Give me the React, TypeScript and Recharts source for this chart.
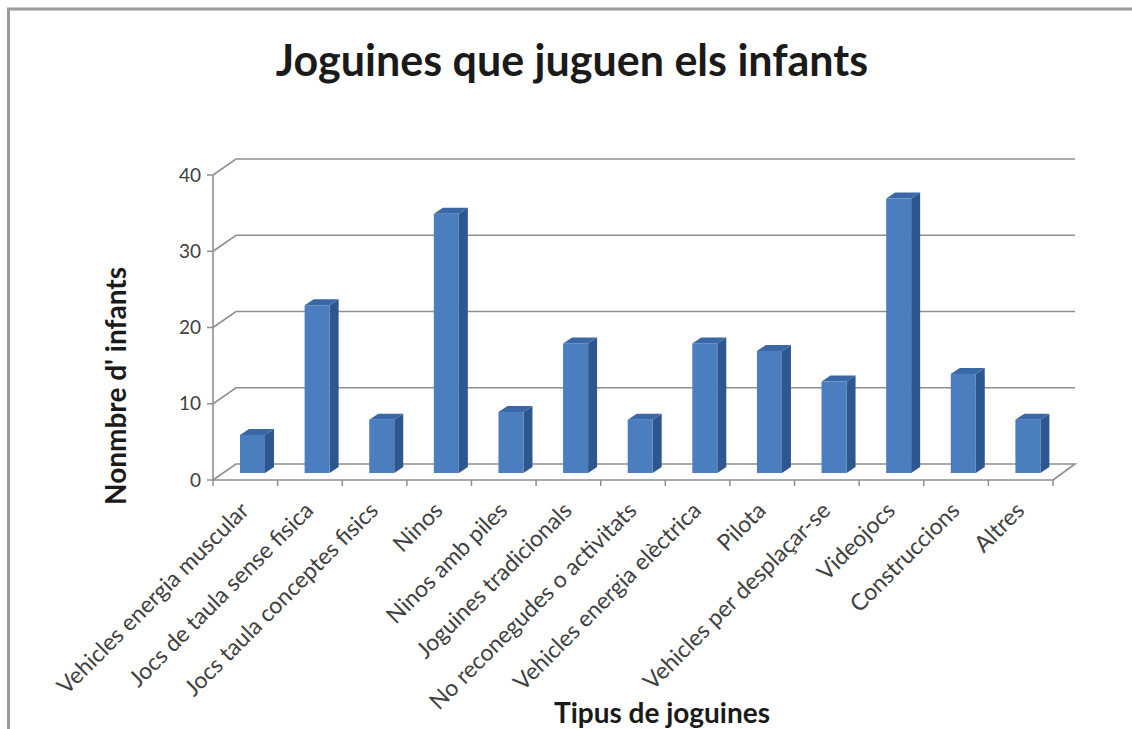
import React from 'react';
import { BarChart, Bar, XAxis, YAxis, CartesianGrid } from 'recharts';

const categories = [
  'Vehicles energia muscular',
  'Jocs de taula sense fisica',
  'Jocs taula conceptes fisics',
  'Ninos',
  'Ninos amb piles',
  'Joguines tradicionals',
  'No reconegudes o activitats',
  'Vehicles energia elèctrica',
  'Pilota',
  'Vehicles per desplaçar-se',
  'Videojocs',
  'Construccions',
  'Altres',
];
const infants = [5, 22, 7, 34, 8, 17, 7, 17, 16, 12, 36, 13, 7];
const yTicks = [0, 10, 20, 30, 40];

const data = categories.map((name, i) => ({ name, infants: infants[i] }));

// layout of the fake 3d plot
const W = 1132;
const H = 729;
const PLOT_LEFT = 213;
const PLOT_RIGHT = 1053;
const PLOT_TOP = 175;
const PLOT_BOTTOM = 480;
const BAND = (PLOT_RIGHT - PLOT_LEFT) / categories.length;
const WALL_DX = 23;
const WALL_DY = -16;
const BAR_DX = 7;
const BAR_DY = -7;
const DEPTH_X = 9;
const DEPTH_Y = -6;

const FONT = 'Lato, "Open Sans", sans-serif';
const GRID = '#8f8f8f';

const Bar3D = (props: any) => {
  const { x, y, width, height } = props;
  if (height <= 0) return null;
  const l = x + BAR_DX;
  const r = l + width;
  const t = y + BAR_DY;
  const b = t + height;
  return (
    <g>
      <polygon
        points={`${r},${b} ${r + DEPTH_X},${b + DEPTH_Y} ${r + DEPTH_X},${t + DEPTH_Y} ${r},${t}`}
        fill="#2d578e"
      />
      <polygon
        points={`${l},${t} ${l + DEPTH_X},${t + DEPTH_Y} ${r + DEPTH_X},${t + DEPTH_Y} ${r},${t}`}
        fill="#3a68a6"
      />
      <rect x={l} y={t} width={width} height={height} fill="#4a7ebf" />
    </g>
  );
};

const gridLine = (props: any) => {
  const { x1, y1, x2, key } = props;
  const wy = y1 + WALL_DY;
  let pts = `${x1},${y1} ${x1 + WALL_DX},${wy} ${x2 + WALL_DX - 1},${wy}`;
  if (Math.abs(y1 - PLOT_BOTTOM) < 1) {
    pts += ` ${x2},${y1}`;
  }
  return <polyline key={key} points={pts} fill="none" stroke={GRID} strokeWidth={1.6} />;
};

const CategoryTick = (props: any) => {
  const { x, y, payload } = props;
  const ax = x + 5;
  const ay = y + 32;
  return (
    <g>
      <line x1={x + BAND / 2} y1={y} x2={x + BAND / 2} y2={y + 6} stroke={GRID} strokeWidth={1.5} />
      <text
        x={ax}
        y={ay}
        transform={`rotate(-45 ${ax} ${ay})`}
        textAnchor="end"
        fontFamily={FONT}
        fontSize={23}
        fill="#404040"
      >
        {payload.value}
      </text>
    </g>
  );
};

export default function App() {
  return (
    <div style={{ position: 'fixed', left: 0, top: 0, width: W, height: H, background: '#fff', overflow: 'hidden' }}>
      <BarChart
        width={W}
        height={H}
        data={data}
        margin={{ top: PLOT_TOP, right: W - PLOT_RIGHT, bottom: H - PLOT_BOTTOM - 30, left: PLOT_LEFT - 60 }}
        barCategoryGap={0}
      >
        <CartesianGrid vertical={false} horizontal={gridLine} />
        <YAxis
          domain={[0, 40]}
          ticks={yTicks}
          width={60}
          axisLine={{ stroke: GRID, strokeWidth: 1.6 }}
          tickLine={{ stroke: GRID, strokeWidth: 1.5 }}
          tickSize={6}
          tickMargin={6}
          tick={{ fontFamily: FONT, fontSize: 19, fill: '#404040' }}
        />
        <XAxis
          dataKey="name"
          height={30}
          interval={0}
          tickSize={0}
          tickMargin={0}
          tickLine={false}
          axisLine={{ stroke: GRID, strokeWidth: 1.6 }}
          tick={<CategoryTick />}
        />
        <Bar dataKey="infants" barSize={25} shape={<Bar3D />} isAnimationActive={false} />
      </BarChart>
      <svg width={W} height={H} style={{ position: 'absolute', left: 0, top: 0, pointerEvents: 'none' }}>
        <line x1={8.5} y1={8} x2={8.5} y2={H} stroke="#9a9a9a" strokeWidth={3} />
        <line x1={7} y1={9} x2={W} y2={9} stroke="#9a9a9a" strokeWidth={3} />
        <line x1={PLOT_LEFT} y1={PLOT_BOTTOM} x2={PLOT_LEFT} y2={PLOT_BOTTOM + 6} stroke={GRID} strokeWidth={1.5} />
        <text x={572} y={76} textAnchor="middle" fontFamily={FONT} fontWeight="bold" fontSize={43} fill="#1a1a1a">
          Joguines que juguen els infants
        </text>
        <text
          x={126}
          y={386}
          transform="rotate(-90 126 386)"
          textAnchor="middle"
          fontFamily={FONT}
          fontWeight="bold"
          fontSize={28}
          fill="#1a1a1a"
        >
          Nonmbre d' infants
        </text>
        <text x={662} y={723} textAnchor="middle" fontFamily={FONT} fontWeight="bold" fontSize={28} fill="#1a1a1a">
          Tipus de joguines
        </text>
      </svg>
    </div>
  );
}
